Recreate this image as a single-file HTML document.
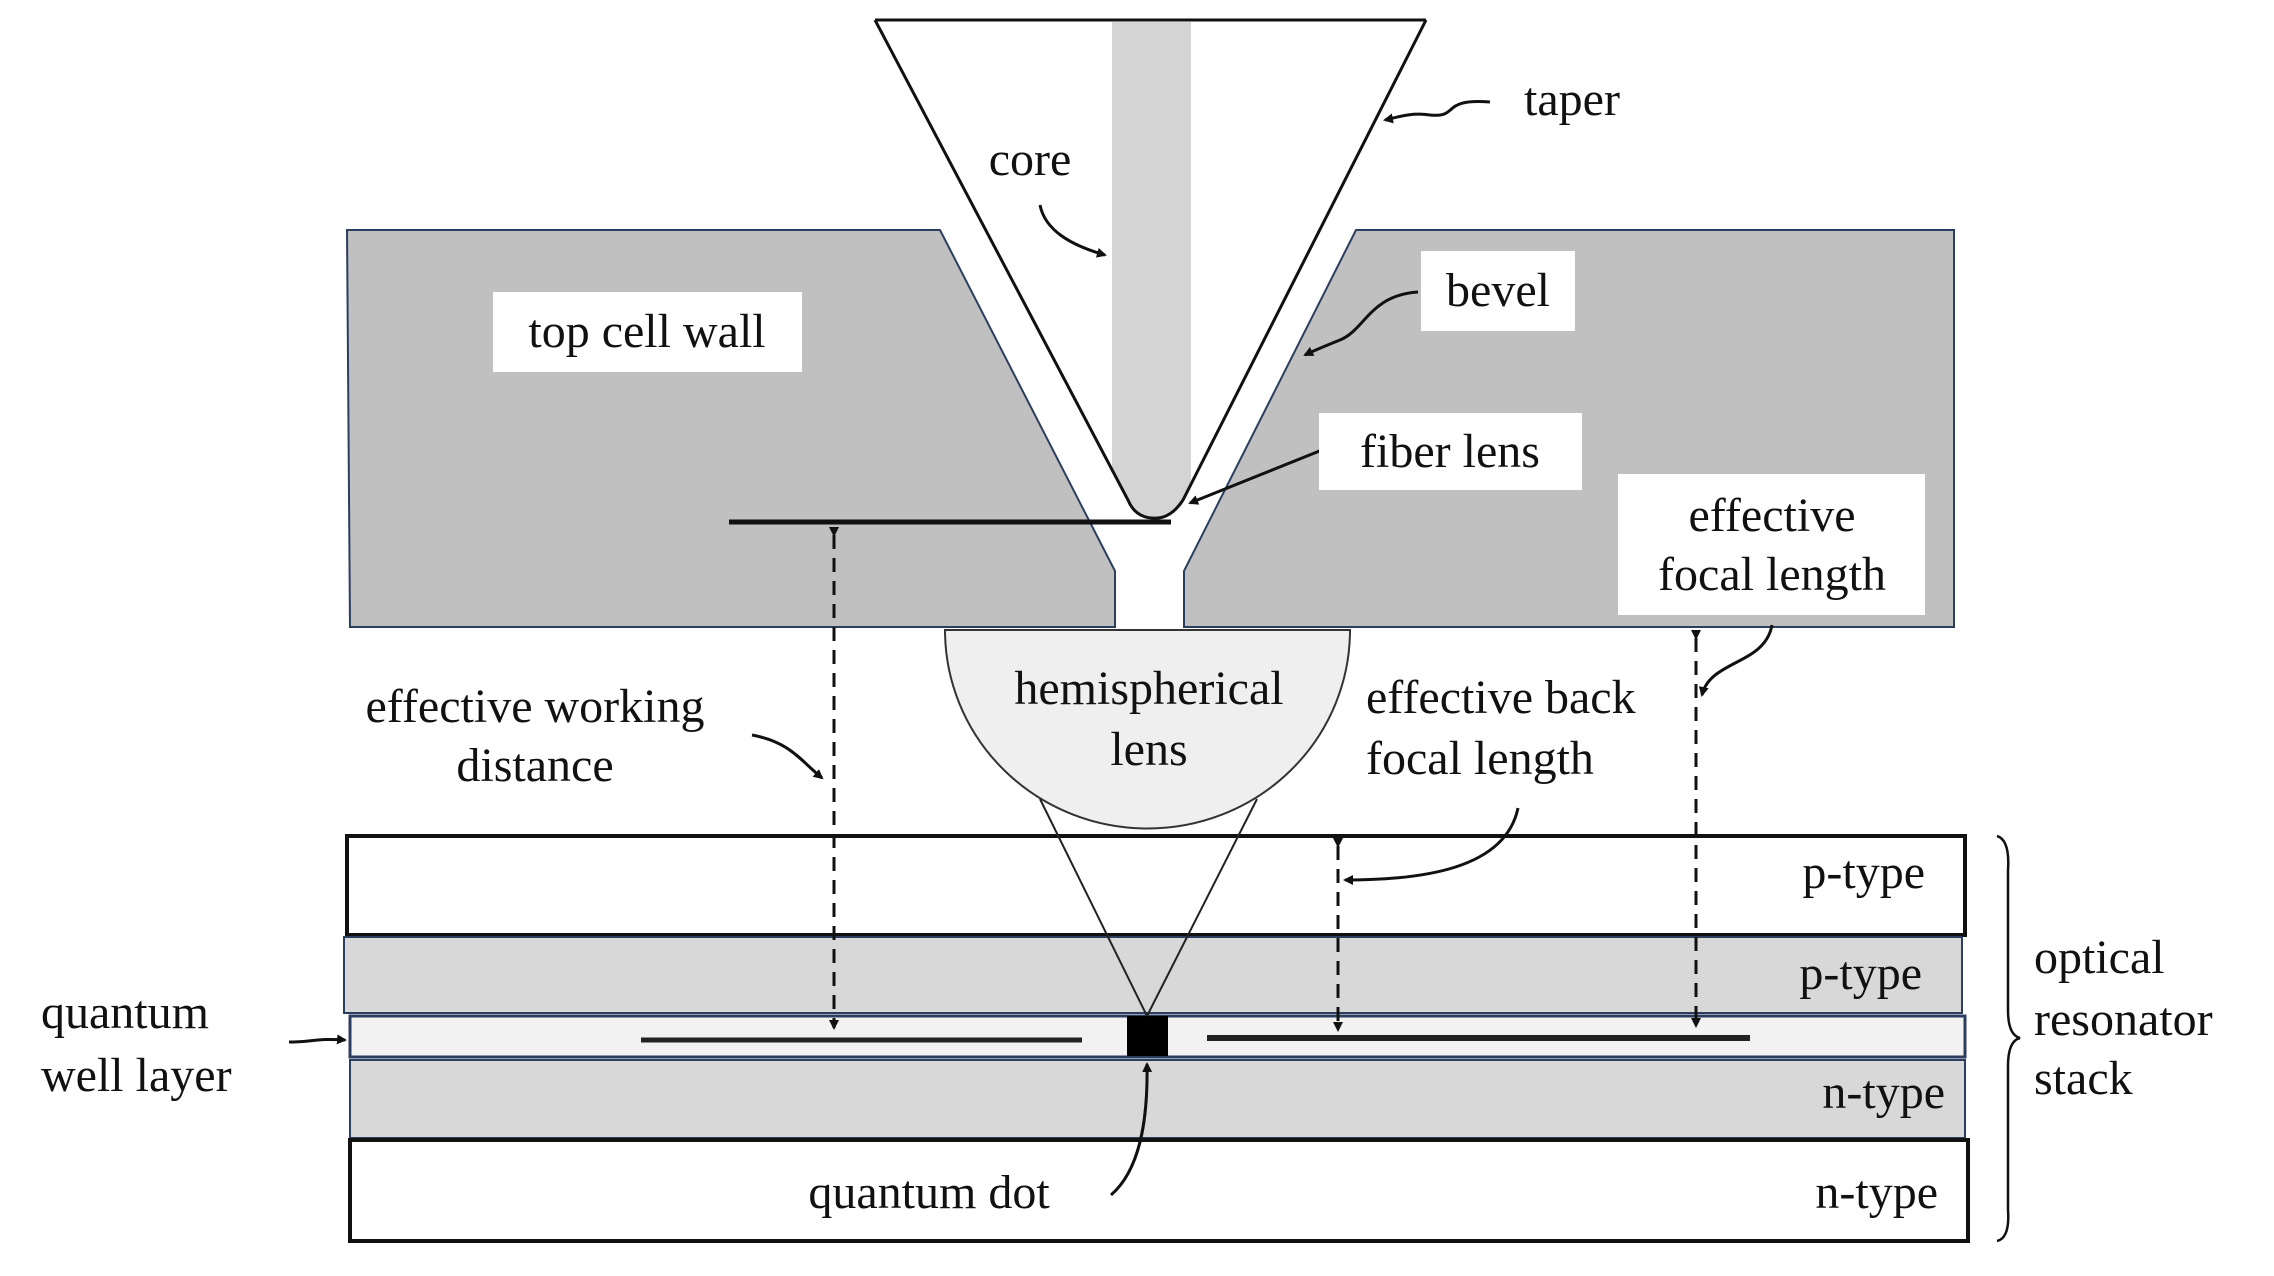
<!DOCTYPE html>
<html><head><meta charset="utf-8"><style>html,body{margin:0;padding:0;background:#fff}svg{display:block}svg text{font-family:"Liberation Serif","DejaVu Serif",serif;font-size:48px;fill:#111}</style></head><body>
<svg width="2274" height="1276" viewBox="0 0 2274 1276" xmlns="http://www.w3.org/2000/svg">
<defs>
<marker id="ah" markerWidth="10" markerHeight="10" refX="8" refY="5" orient="auto" markerUnits="userSpaceOnUse"><path d="M0,0 L10,5 L0,10 z" fill="#111"/></marker>
</defs>
<path d="M347,230 L940,230 L1115,571 L1115,627 L350,627 Z" fill="#c0c0c0" stroke="#2c3e60" stroke-width="2"/>
<path d="M1356,230 L1954,230 L1954,627 L1184,627 L1184,571 Z" fill="#c0c0c0" stroke="#2c3e60" stroke-width="2"/>
<path d="M875,20 L1426,20 L1183,500 Q1170,520 1152,518 Q1135,517 1128,500 Z" fill="#fff"/>
<path d="M1112,22 L1191,22 L1191,480 L1183,500 Q1170,518 1152,518 Q1135,516 1128,500 L1112,470 Z" fill="#d4d4d4"/>
<path d="M875,20 L1128,500 Q1135,517 1152,518 Q1170,520 1183,500 L1426,20" fill="none" stroke="#111" stroke-width="3"/>
<line x1="875" y1="20" x2="1426" y2="20" stroke="#111" stroke-width="3"/>
<line x1="729" y1="522" x2="1171" y2="522" stroke="#111" stroke-width="5"/>
<path d="M945,630 L1350,630 A202,198 0 0 1 945,630 Z" fill="#efefef" stroke="#333" stroke-width="2"/>
<rect x="347" y="836" width="1618" height="99" fill="#fff" stroke="#111" stroke-width="4"/>
<rect x="344" y="937" width="1618" height="76" fill="#d8d8d8" stroke="#2c3e60" stroke-width="2"/>
<rect x="350" y="1016" width="1615" height="41" fill="#f2f2f2" stroke="#2c3e60" stroke-width="3"/>
<rect x="350" y="1060" width="1615" height="78" fill="#d8d8d8" stroke="#2c3e60" stroke-width="2"/>
<rect x="350" y="1140" width="1618" height="101" fill="#fff" stroke="#111" stroke-width="4"/>
<line x1="641" y1="1040" x2="1082" y2="1040" stroke="#222" stroke-width="5"/>
<line x1="1207" y1="1038" x2="1750" y2="1038" stroke="#222" stroke-width="6"/>
<rect x="1127" y="1016" width="41" height="40" fill="#000"/>
<line x1="1040" y1="799" x2="1147" y2="1016" stroke="#222" stroke-width="2"/>
<line x1="1257" y1="799" x2="1147" y2="1016" stroke="#222" stroke-width="2"/>
<g stroke="#111" stroke-width="3" stroke-dasharray="14,9" fill="none">
<line x1="834" y1="535" x2="834" y2="1028" marker-start="url(#ah)" marker-end="url(#ah)"/>
<line x1="1338" y1="846" x2="1338" y2="1030" marker-start="url(#ah)" marker-end="url(#ah)"/>
<line x1="1696" y1="638" x2="1696" y2="1026" marker-start="url(#ah)" marker-end="url(#ah)"/>
</g>
<g stroke="#111" stroke-width="3" fill="none">
<path d="M1490,102 C1440,98 1460,118 1430,115 C1410,112 1395,118 1385,120" marker-end="url(#ah)"/>
<path d="M1040,205 C1045,230 1070,245 1105,255" marker-end="url(#ah)"/>
<path d="M1418,292 C1370,295 1365,330 1340,340 C1325,346 1315,350 1305,355" marker-end="url(#ah)"/>
<path d="M1322,450 L1190,503" marker-end="url(#ah)"/>
<path d="M1772,625 C1765,665 1710,660 1702,695" marker-end="url(#ah)"/>
<path d="M1518,808 C1505,870 1420,880 1345,880" marker-end="url(#ah)"/>
<path d="M752,735 C790,742 800,760 822,778" marker-end="url(#ah)"/>
<path d="M289,1042 C310,1042 320,1038 345,1040" marker-end="url(#ah)"/>
<path d="M1111,1195 C1140,1170 1148,1120 1147,1064" marker-end="url(#ah)"/>
<path d="M1997,836 Q2010,840 2008,870 L2008,1010 Q2008,1035 2020,1038 Q2008,1041 2008,1066 L2008,1210 Q2010,1238 1997,1241" stroke-width="2.5"/>
</g>
<rect x="493" y="292" width="309" height="80" fill="#fff"/>
<rect x="1421" y="251" width="154" height="80" fill="#fff"/>
<rect x="1319" y="413" width="263" height="77" fill="#fff"/>
<rect x="1618" y="474" width="307" height="141" fill="#fff"/>
<g text-anchor="middle">
<text x="1030" y="175">core</text>
<text x="1572" y="115">taper</text>
<text x="647" y="347">top cell wall</text>
<text x="1498" y="306">bevel</text>
<text x="1450" y="467">fiber lens</text>
<text x="1772" y="531">effective</text>
<text x="1772" y="590">focal length</text>
<text x="1149" y="704">hemispherical</text>
<text x="1149" y="765">lens</text>
<text x="535" y="722">effective working</text>
<text x="535" y="781">distance</text>
<text x="929" y="1208">quantum dot</text>
</g>
<g text-anchor="end">
<text x="1925" y="888">p-type</text>
<text x="1922" y="989">p-type</text>
<text x="1945" y="1108">n-type</text>
<text x="1938" y="1208">n-type</text>
</g>
<text x="1366" y="713">effective back</text>
<text x="1366" y="774">focal length</text>
<text x="41" y="1028">quantum</text>
<text x="41" y="1091">well layer</text>
<text x="2034" y="973">optical</text>
<text x="2034" y="1035">resonator</text>
<text x="2034" y="1094">stack</text>
</svg>
</body></html>
